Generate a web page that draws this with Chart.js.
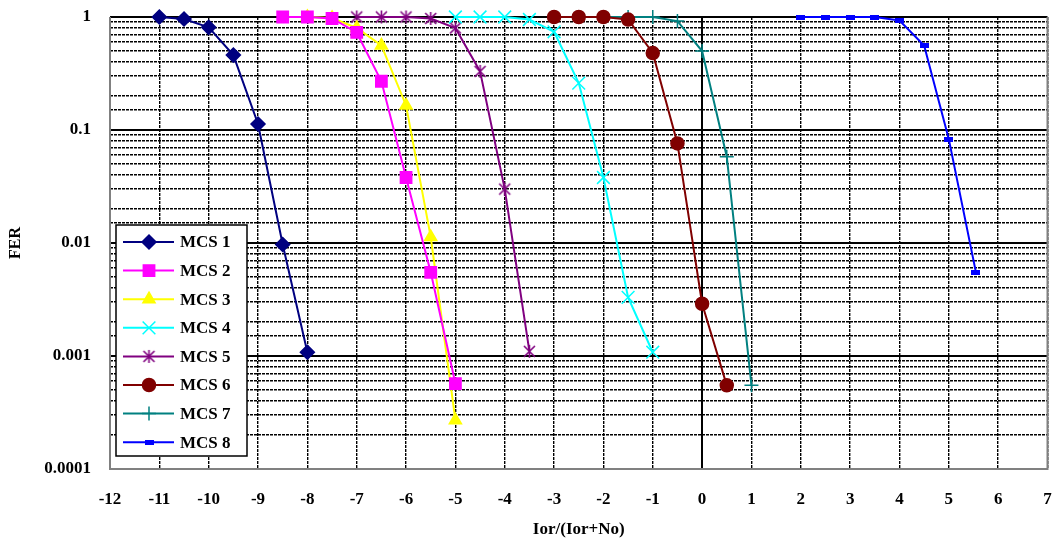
<!DOCTYPE html>
<html>
<head>
<meta charset="utf-8">
<script src="https://cdn.jsdelivr.net/npm/chart.js@4/dist/chart.umd.min.js"></script>
<style>
  html, body { margin: 0; padding: 0; background: #fff; }
  #wrap { width: 1058px; height: 544px; }
</style>
</head>
<body>
<div id="wrap"><canvas id="ferChart" width="1058" height="544"></canvas></div>
<script>
// series data (x = Ior/(Ior+No), y = FER)
const seriesNames = ['MCS 1', 'MCS 2', 'MCS 3', 'MCS 4', 'MCS 5', 'MCS 6', 'MCS 7', 'MCS 8'];
const mcs1X = [-11, -10.5, -10, -9.5, -9, -8.5, -8];
const mcs1Y = [1, 0.96, 0.81, 0.46, 0.113, 0.0097, 0.00108];
const mcs2X = [-8.5, -8, -7.5, -7, -6.5, -6, -5.5, -5];
const mcs2Y = [1, 1, 0.97, 0.73, 0.27, 0.038, 0.0055, 0.00057];
const mcs3X = [-8, -7.5, -7, -6.5, -6, -5.5, -5];
const mcs3Y = [1, 0.98, 0.8, 0.56, 0.165, 0.0113, 0.00027];
const mcs4X = [-5, -4.5, -4, -3.5, -3, -2.5, -2, -1.5, -1];
const mcs4Y = [1, 1, 1, 0.95, 0.74, 0.26, 0.038, 0.0033, 0.00108];
const mcs5X = [-7, -6.5, -6, -5.5, -5, -4.5, -4, -3.5];
const mcs5Y = [1, 1, 1, 0.97, 0.8, 0.33, 0.03, 0.0011];
const mcs6X = [-3, -2.5, -2, -1.5, -1, -0.5, 0, 0.5];
const mcs6Y = [1, 1, 1, 0.95, 0.48, 0.076, 0.0029, 0.00055];
const mcs7X = [-2, -1.5, -1, -0.5, 0, 0.5, 1];
const mcs7Y = [1, 1, 1, 0.92, 0.5, 0.058, 0.00055];
const mcs8X = [2, 2.5, 3, 3.5, 4, 4.5, 5, 5.55];
const mcs8Y = [1, 1, 1, 1, 0.93, 0.56, 0.083, 0.0055];

const yTickValues = [1, 0.1, 0.01, 0.001, 0.0001];
const yTickLabels = ['1', '0.1', '0.01', '0.001', '0.0001'];

const FONT = "'Liberation Serif', 'DejaVu Serif', serif";

// custom marker shapes
function makeAsterisk(color) {
    const c = document.createElement('canvas');
    c.width = 15; c.height = 15;
    const g = c.getContext('2d');
    g.strokeStyle = color; g.lineWidth = 1.6;
    g.beginPath();
    g.moveTo(7.5, 1); g.lineTo(7.5, 14);
    g.moveTo(2, 2); g.lineTo(13, 13);
    g.moveTo(13, 2); g.lineTo(2, 13);
    g.stroke();
    return c;
}
function makeDash(color) {
    const c = document.createElement('canvas');
    c.width = 9; c.height = 5;
    const g = c.getContext('2d');
    g.fillStyle = color;
    g.fillRect(0, 0, 9, 5);
    return c;
}

function toPoints(xs, ys) {
    return xs.map((x, i) => ({ x: x, y: ys[i] }));
}

const styles = [
    { color: '#000080', pointStyle: 'rectRot', radius: 7 },
    { color: '#FF00FF', pointStyle: 'rect', radius: 8 },
    { color: '#FFFF00', pointStyle: 'triangle', radius: 7 },
    { color: '#00FFFF', pointStyle: 'crossRot', radius: 9 },
    { color: '#800080', pointStyle: makeAsterisk('#800080'), radius: 7 },
    { color: '#800000', pointStyle: 'circle', radius: 6.5 },
    { color: '#008080', pointStyle: 'cross', radius: 7 },
    { color: '#0000FF', pointStyle: makeDash('#0000FF'), radius: 5 }
];
const xs = [mcs1X, mcs2X, mcs3X, mcs4X, mcs5X, mcs6X, mcs7X, mcs8X];
const ys = [mcs1Y, mcs2Y, mcs3Y, mcs4Y, mcs5Y, mcs6Y, mcs7Y, mcs8Y];

const datasets = seriesNames.map((name, i) => ({
    label: name,
    data: toPoints(xs[i], ys[i]),
    borderColor: styles[i].color,
    backgroundColor: styles[i].color,
    borderWidth: 2,
    pointStyle: styles[i].pointStyle,
    pointRadius: styles[i].radius,
    pointBorderWidth: 1.5,
    pointBackgroundColor: styles[i].color,
    pointBorderColor: styles[i].color,
    tension: 0,
    fill: false,
    clip: 10
}));

function isDecade(v) {
    const l = Math.log10(v);
    return Math.abs(l - Math.round(l)) < 1e-6;
}

// gray frame on left, right and bottom of the plot area
const framePlugin = {
    id: 'frame',
    beforeDatasetsDraw(chart) {
        const { ctx, chartArea: a } = chart;
        ctx.save();
        ctx.strokeStyle = '#808080';
        ctx.lineWidth = 2;
        ctx.beginPath();
        ctx.moveTo(a.left, a.top); ctx.lineTo(a.left, a.bottom);
        ctx.lineTo(a.right, a.bottom); ctx.lineTo(a.right, a.top);
        ctx.stroke();
        ctx.restore();
    }
};

// legend box inside the plot, lower left
const boxLegend = {
    id: 'boxLegend',
    afterDraw(chart) {
        const { ctx, chartArea: a } = chart;
        const left = a.left + 6, top = a.top + 208, w = 131, h = 231;
        ctx.save();
        ctx.fillStyle = '#fff';
        ctx.fillRect(left, top, w, h);
        ctx.strokeStyle = '#000';
        ctx.lineWidth = 1.5;
        ctx.strokeRect(left, top, w, h);
        ctx.font = 'bold 17px ' + FONT;
        ctx.textBaseline = 'middle';
        chart.data.datasets.forEach((ds, i) => {
            const y = top + 17 + i * 28.6;
            ctx.strokeStyle = ds.borderColor;
            ctx.fillStyle = ds.borderColor;
            ctx.lineWidth = 2;
            ctx.beginPath();
            ctx.moveTo(left + 7, y); ctx.lineTo(left + 58, y);
            ctx.stroke();
            ctx.lineWidth = 1.5;
            Chart.helpers.drawPoint(ctx, {
                pointStyle: ds.pointStyle, radius: ds.pointRadius, rotation: 0, borderWidth: 1.5
            }, left + 33, y);
            ctx.fillStyle = '#000';
            ctx.fillText(ds.label, left + 64, y + 1);
        });
        ctx.restore();
    }
};

const ctx = document.getElementById('ferChart').getContext('2d');
const ferChart = new Chart(ctx, {
    type: 'line',
    data: { datasets: datasets },
    options: {
        responsive: false,
        animation: false,
        layout: { padding: { left: 0, right: 9, top: 17, bottom: 0 } },
        plugins: {
            legend: { display: false },
            tooltip: { enabled: false }
        },
        scales: {
            x: {
                type: 'linear',
                min: -12,
                max: 7,
                afterFit: (scale) => {
                    scale.height = 75;
                    scale.paddingLeft = 0;
                    scale.paddingRight = 0;
                },
                ticks: {
                    stepSize: 1,
                    padding: 20,
                    color: '#000',
                    font: { family: FONT, size: 17, weight: 'bold' }
                },
                grid: {
                    drawTicks: false,
                    color: '#000',
                    lineWidth: (c) => (c.tick && c.tick.value === 0 ? 2 : 1.4)
                },
                border: {
                    display: false,
                    dash: (c) => (c.tick && c.tick.value === 0 ? [] : [3, 1])
                },
                title: {
                    display: true,
                    text: 'Ior/(Ior+No)',
                    color: '#000',
                    font: { family: FONT, size: 17, weight: 'bold' },
                    padding: { top: 0, bottom: 4 }
                }
            },
            y: {
                type: 'logarithmic',
                min: 0.0001,
                max: 1,
                afterFit: (scale) => {
                    scale.width = 110;
                    scale.paddingTop = 0;
                    scale.paddingBottom = 0;
                },
                ticks: {
                    autoSkip: false,
                    padding: 19,
                    color: '#000',
                    font: { family: FONT, size: 17, weight: 'bold' },
                    callback: (v) => {
                        const k = yTickValues.findIndex(t => Math.abs(t - v) < t * 1e-6);
                        return k >= 0 ? yTickLabels[k] : '';
                    }
                },
                grid: {
                    drawTicks: false,
                    color: '#000',
                    lineWidth: (c) => (c.tick && isDecade(c.tick.value) ? 2 : 1.4)
                },
                border: {
                    display: false,
                    dash: (c) => (c.tick && isDecade(c.tick.value) ? [] : [3, 1])
                },
                title: {
                    display: true,
                    text: 'FER',
                    color: '#000',
                    font: { family: FONT, size: 16, weight: 'bold' },
                    padding: { top: 6, bottom: 0 }
                }
            }
        }
    },
    plugins: [framePlugin, boxLegend]
});
</script>
</body>
</html>
